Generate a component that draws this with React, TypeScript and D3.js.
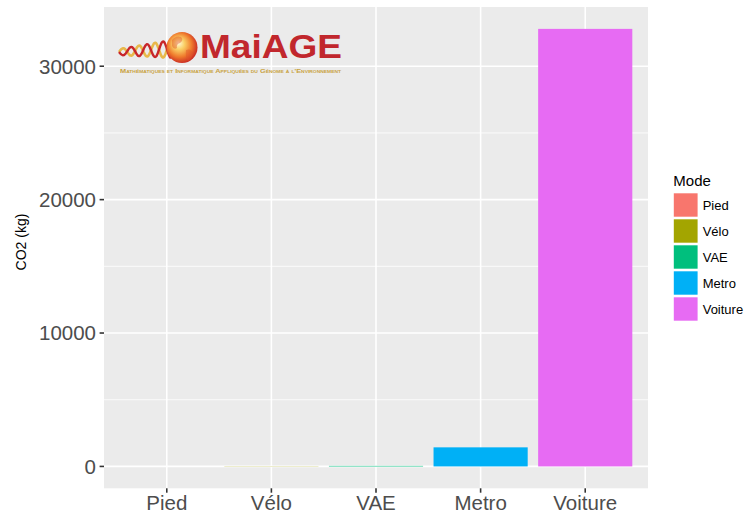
import React from "react";
import * as d3 from "d3";

const categories = ["Pied", "Vélo", "VAE", "Metro", "Voiture"];
const co2Values = [0, 15, 40, 1430, 32800];
const modeColors = ["#F8766D", "#A3A500", "#00BF7D", "#00B0F6", "#E76BF3"];
const yMajorTicks = [0, 10000, 20000, 30000];
const yMinorTicks = [5000, 15000, 25000];
const yTickLabels = ["0", "10000", "20000", "30000"];
const legendTitle = "Mode";
const yTitle = "CO2 (kg)";
const logoTitle = "MaiAGE";
const logoSubtitle = "Mathématiques et Informatique Appliquées du Génome à l'Environnement";

const W = 745;
const H = 516;
const panel = { left: 104, right: 648, top: 7, bottom: 488.3 };
const FONT = "'Liberation Sans', Arial, Helvetica, sans-serif";

function helixPath(phase: number): string {
  const pts: [number, number][] = [];
  const x0 = 119, x1 = 171, cy = 52;
  for (let i = 0; i <= 80; i++) {
    const t = i / 80;
    const xx = x0 + (x1 - x0) * t;
    const amp = 3 + 6 * t;
    pts.push([xx, cy - 3 * t + amp * Math.sin((xx - x0) / 16 * 2 * Math.PI + phase)]);
  }
  return d3.line().curve(d3.curveBasis)(pts) || "";
}

export default function App() {
  const maxV = d3.max(co2Values) as number;
  const y = d3
    .scaleLinear()
    .domain([-0.05 * maxV, 1.05 * maxV])
    .range([panel.bottom, panel.top]);
  const x = d3
    .scaleBand<string>()
    .domain(categories)
    .range([panel.left, panel.right])
    .paddingInner(0.1)
    .paddingOuter(0.15);
  const bw = x.bandwidth();
  const cx = (c: string) => (x(c) as number) + bw / 2;

  return (
    <svg
      width={W}
      height={H}
      style={{ position: "absolute", left: 0, top: 0, background: "#fff" }}
      fontFamily={FONT}
    >
      <defs>
        <radialGradient id="globe" cx="45%" cy="45%" r="60%" fx="38%" fy="35%">
          <stop offset="0%" stopColor="#FFFBE0" />
          <stop offset="30%" stopColor="#FAD066" />
          <stop offset="65%" stopColor="#EF7A2C" />
          <stop offset="100%" stopColor="#C41E22" />
        </radialGradient>
      </defs>
      <rect x={panel.left} y={panel.top} width={panel.right - panel.left} height={panel.bottom - panel.top} fill="#EBEBEB" />
      {yMinorTicks.map((t) => (
        <line key={"mn" + t} x1={panel.left} x2={panel.right} y1={y(t)} y2={y(t)} stroke="#fff" strokeWidth={0.8} />
      ))}
      {yMajorTicks.map((t) => (
        <line key={"mj" + t} x1={panel.left} x2={panel.right} y1={y(t)} y2={y(t)} stroke="#fff" strokeWidth={1.6} />
      ))}
      {categories.map((c) => (
        <line key={"vg" + c} x1={cx(c)} x2={cx(c)} y1={panel.top} y2={panel.bottom} stroke="#fff" strokeWidth={1.6} />
      ))}
      {categories.map((c, i) => (
        <rect
          key={"bar" + c}
          x={x(c)}
          width={bw}
          y={y(Math.max(0, co2Values[i]))}
          height={Math.abs(y(0) - y(co2Values[i]))}
          fill={modeColors[i]}
        />
      ))}

      {/* logo */}
      <g>
        <path d={helixPath(Math.PI)} fill="none" stroke="#E8B84A" strokeWidth={2.6} />
        <path d={helixPath(0)} fill="none" stroke="#C8262A" strokeWidth={2.4} />
        <circle cx={182} cy={47.5} r={15.5} fill="url(#globe)" />
        <path d="M172,40 q4,-5 9,-3 q3,3 -1,6 q-4,1 -3,5 q-3,2 -5,-2 z" fill="#E0552A" opacity={0.45} />
        <path d="M186,50 q5,-2 7,3 q-1,6 -5,8 q-3,-4 -2,-11 z" fill="#E0552A" opacity={0.45} />
        <text x={200} y={57.5} fontSize={33} fontWeight="bold" fill="#C1272D" textLength={142} lengthAdjust="spacingAndGlyphs">
          {logoTitle}
        </text>
        <text x={120} y={72.5} fontSize={6} fontWeight="bold" fill="#C9A23F" style={{ fontVariant: "small-caps" }} textLength={221} lengthAdjust="spacingAndGlyphs">
          {logoSubtitle}
        </text>
      </g>

      {/* y axis */}
      {yMajorTicks.map((t, i) => (
        <g key={"yt" + t}>
          <line x1={99.6} x2={panel.left} y1={y(t)} y2={y(t)} stroke="#333" strokeWidth={1.6} />
          <text x={96} y={y(t)} dy="0.36em" textAnchor="end" fontSize={20.5} fill="#4D4D4D">
            {yTickLabels[i]}
          </text>
        </g>
      ))}
      {/* x axis */}
      {categories.map((c) => (
        <g key={"xt" + c}>
          <line x1={cx(c)} x2={cx(c)} y1={panel.bottom} y2={panel.bottom + 4.4} stroke="#333" strokeWidth={1.6} />
          <text x={cx(c)} y={510} textAnchor="middle" fontSize={20.5} fill="#4D4D4D">
            {c}
          </text>
        </g>
      ))}
      <text transform={`translate(26,242) rotate(-90)`} textAnchor="middle" fontSize={14} fill="#000">
        {yTitle}
      </text>

      {/* legend */}
      <text x={673.3} y={185.5} fontSize={15} fill="#000">
        {legendTitle}
      </text>
      {categories.map((c, i) => (
        <g key={"lg" + c}>
          <rect x={673.8} y={193.3 + i * 26} width={23.8} height={23.4} fill={modeColors[i]} />
          <text x={702.7} y={209.7 + i * 26} fontSize={13} fill="#000">
            {c}
          </text>
        </g>
      ))}
    </svg>
  );
}
